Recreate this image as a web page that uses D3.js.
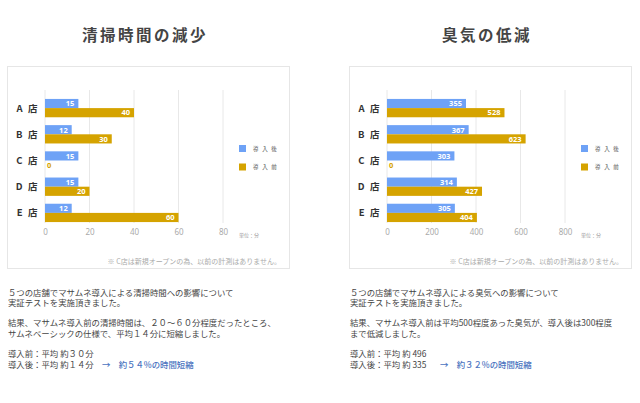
<!DOCTYPE html>
<html lang="ja">
<head>
<meta charset="UTF-8" />
<title>清掃時間の減少 / 臭気の低減</title>
<script src="https://d3js.org/d3.v7.min.js"></script>
<style>
  body { margin: 0; padding: 0; background: #fff; }
  svg { display: block; font-family: "Noto Sans CJK JP", "Noto Sans", sans-serif; }
  text { white-space: pre; }
</style>
</head>
<body>
<div id="chart"></div>
<script>
const stores = ["A 店", "B 店", "C 店", "D 店", "E 店"];
const seriesNames = ["導 入 後", "導 入 前"];

const cleanAfter = [15, 12, 15, 15, 12];
const cleanBefore = [40, 30, 0, 20, 60];
const cleanTicks = [0, 20, 40, 60, 80];

const odorAfter = [355, 367, 303, 314, 305];
const odorBefore = [528, 623, 0, 427, 404];
const odorTicks = [0, 200, 400, 600, 800];

const cleanText = [
  "５つの店舗でマサムネ導入による清掃時間への影響について",
  "実証テストを実施頂きました。",
  "",
  "結果、マサムネ導入前の清掃時間は、２０～６０分程度だったところ、",
  "サムネベーシックの仕様で、平均１４分に短縮しました。",
  "",
  "導入前：平均 約３０分",
  "導入後：平均 約１４分"
];
const cleanHighlight = "→　約５４%の時間短縮";

const odorText = [
  "５つの店舗でマサムネ導入による臭気への影響について",
  "実証テストを実施頂きました。",
  "",
  "結果、マサムネ導入前は平均500程度あった臭気が、導入後は300程度",
  "まで低減しました。",
  "",
  "導入前：平均 約 496",
  "導入後：平均 約 335"
];
const odorHighlight = "→　約３２%の時間短縮";

const colors = ["#6ea2f6", "#d5a300"];
const W = 640, H = 403;

const svg = d3.select("#chart").append("svg")
  .attr("width", W).attr("height", H);

function drawPanel(x0, title, after, before, ticks, lines, highlight, hlX) {
  const g = svg.append("g").attr("transform", `translate(${x0},0)`);

  g.append("text")
    .attr("x", 138).attr("y", 41)
    .attr("text-anchor", "middle")
    .attr("font-size", 15.5).attr("font-weight", 700)
    .attr("letter-spacing", 2.5)
    .attr("fill", "#444")
    .text(title);

  g.append("rect")
    .attr("x", 0.5).attr("y", 66.5)
    .attr("width", 282).attr("height", 202)
    .attr("fill", "#fff").attr("stroke", "#e6e6e6");

  const x = d3.scaleLinear().domain([ticks[0], ticks[ticks.length - 1]]).range([38, 216]);
  const y = d3.scaleBand().domain(stores).range([95, 226]).paddingInner(0.3).paddingOuter(0.15);
  const sub = d3.scaleBand().domain([0, 1]).range([0, y.bandwidth()]);

  // grid lines
  g.selectAll(".grid").data(ticks).join("line")
    .attr("x1", d => x(d)).attr("x2", d => x(d))
    .attr("y1", 90).attr("y2", 223)
    .attr("stroke", "#e8e8e8").attr("stroke-width", 1);

  const axis = g.append("g").attr("transform", "translate(0,229)")
    .call(d3.axisBottom(x).tickValues(ticks).tickSize(0).tickPadding(0));
  axis.select(".domain").remove();
  axis.selectAll("text")
    .attr("font-size", 8).attr("fill", "#aaa")
    .attr("font-family", "'Noto Sans', sans-serif");

  g.append("text")
    .attr("x", 232).attr("y", 237)
    .attr("font-size", 5).attr("fill", "#999")
    .text("単位：分");

  // category labels
  g.selectAll(".cat").data(stores).join("text")
    .attr("x", 32).attr("y", d => y(d) + y.bandwidth() / 2 + 3.5)
    .attr("text-anchor", "end")
    .attr("font-size", 9.5).attr("font-weight", 700)
    .attr("letter-spacing", 1.6)
    .attr("fill", "#333")
    .text(d => d);

  const rows = stores.map((s, i) => ({ s, vals: [after[i], before[i]] }));
  const grp = g.selectAll(".row").data(rows).join("g")
    .attr("transform", d => `translate(0,${y(d.s)})`);

  grp.selectAll("rect").data(d => d.vals).join("rect")
    .attr("x", x(0))
    .attr("y", (d, i) => sub(i))
    .attr("width", d => x(d) - x(0))
    .attr("height", sub.bandwidth())
    .attr("fill", (d, i) => colors[i]);

  grp.selectAll(".val").data(d => d.vals).join("text")
    .attr("x", d => d > 0 ? x(d) - 4 : x(0) + 2)
    .attr("y", (d, i) => sub(i) + sub.bandwidth() / 2 + 2.8)
    .attr("text-anchor", d => d > 0 ? "end" : "start")
    .attr("font-size", 7.5).attr("font-weight", 700)
    .attr("font-family", "'Noto Sans', sans-serif")
    .attr("fill", (d, i) => d > 0 ? "#fff" : colors[i])
    .text(d => d);

  // legend
  const lg = g.selectAll(".lg").data(seriesNames).join("g")
    .attr("transform", (d, i) => `translate(232,${145 + i * 18.5})`);
  lg.append("rect").attr("width", 7).attr("height", 7)
    .attr("fill", (d, i) => colors[i]);
  lg.append("text").attr("x", 14).attr("y", 5.8)
    .attr("font-size", 5.5).attr("fill", "#555")
    .attr("letter-spacing", 1.2)
    .text(d => d);

  g.append("text")
    .attr("x", 274).attr("y", 264)
    .attr("text-anchor", "end")
    .attr("font-size", 7).attr("fill", "#aaa")
    .text("※ C店は新規オープンの為、以前の計測はありません。");

  // description
  g.selectAll(".desc").data(lines).join("text")
    .attr("x", 1).attr("y", (d, i) => 295.5 + i * 10.3)
    .attr("font-size", 8.4).attr("fill", "#444")
    .text(d => d);

  g.append("text")
    .attr("x", hlX).attr("y", 295.5 + 7 * 10.3)
    .attr("font-size", 8.4).attr("font-weight", 500).attr("fill", "#4a73c0")
    .text(highlight);
}

drawPanel(7, "清掃時間の減少", cleanAfter, cleanBefore, cleanTicks, cleanText, cleanHighlight, 95);
drawPanel(349, "臭気の低減", odorAfter, odorBefore, odorTicks, odorText, odorHighlight, 91);
</script>
</body>
</html>
